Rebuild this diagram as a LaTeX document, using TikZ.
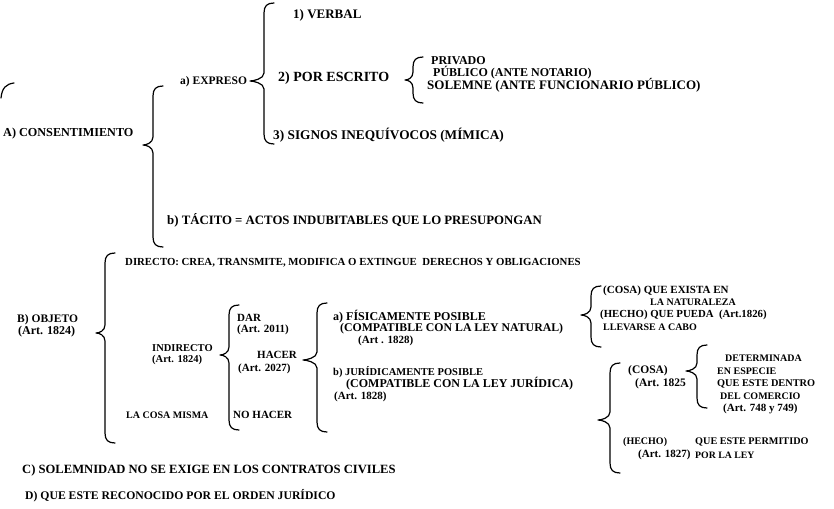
\documentclass[tikz,border=0pt]{standalone}
\usepackage{fontspec}
\setmainfont{Liberation Serif}

% curly brace opening to the right: x of stem, y of top, y of tip, y of bottom, x of tip
\newcommand{\drawbrace}[5]{%
  \draw[brace] (#1+10,#2) .. controls (#1+3,#2) and (#1,#2+3) .. (#1,#2+10)
    -- (#1,#3-8) .. controls (#1,#3-2) and (#5+3,#3) .. (#5,#3)
    .. controls (#5+3,#3) and (#1,#3+2) .. (#1,#3+8)
    -- (#1,#4-10) .. controls (#1,#4-3) and (#1+3,#4) .. (#1+10,#4);}

\begin{document}
\begin{tikzpicture}[x=1pt,y=-1pt,
  lbl/.style={anchor=west,inner sep=0pt,font=\fontsize{#1}{#1}\selectfont\bfseries},
  lbl/.default=12,
  brace/.style={line width=1.2pt,line cap=round,line join=round}]

\fill[white] (0,0) rectangle (834,508);
\useasboundingbox (0,0) rectangle (834,508);

% ---------- A) consentimiento ----------
\draw[brace] (1,98) .. controls (2,88) and (6,84) .. (14,83);

\node[lbl=12.2] (cons) at (3,134) {A) CONSENTIMIENTO};
\drawbrace{153}{86}{145}{247}{143}

\node[lbl=11.5] (expr) at (180,82) {a) EXPRESO};
\drawbrace{264}{3}{81}{144}{250}
\node[lbl=13]   (verb) at (293,15) {1) VERBAL};
\node[lbl=14]   (escr) at (278,78) {2) POR ESCRITO};
\node[lbl=13.3] (sign) at (273,135) {3) SIGNOS INEQUÍVOCOS (MÍMICA)};

\drawbrace{413}{57}{80}{103}{405}
\node[lbl=12]   (priv) at (431,61) {PRIVADO};
\node[lbl=12]   (publ) at (433,73) {PÚBLICO (ANTE NOTARIO)};
\node[lbl=13]   (sole) at (427,85) {SOLEMNE (ANTE FUNCIONARIO PÚBLICO)};

\node[lbl=12.8] (taci) at (167,220) {b) TÁCITO = ACTOS INDUBITABLES QUE LO PRESUPONGAN};

% ---------- B) objeto ----------
\node[lbl=11.5] (obj)  at (17,320) {B) OBJETO};
\node[lbl=12]   (obja) at (18,332) {(Art. 1824)};
\drawbrace{105}{253}{333}{443}{96}

\node[lbl=10.8] (dire) at (125,263) {DIRECTO: CREA, TRANSMITE, MODIFICA O EXTINGUE\ \ DERECHOS Y OBLIGACIONES};
\node[lbl=10.5] (indi)  at (152,348) {INDIRECTO};
\node[lbl=10.5] (india) at (152,360) {(Art. 1824)};
\node[lbl=10]   (cosm) at (126,415) {LA COSA MISMA};

\drawbrace{229}{305}{355}{430}{220}
\node[lbl=11] (dar)   at (237,318) {DAR};
\node[lbl=11] (dara)  at (237,330) {(Art. 2011)};
\node[lbl=11] (hace)  at (257,355) {HACER};
\node[lbl=11] (hacea) at (238,369) {(Art. 2027)};
\node[lbl=11] (noha)  at (233,415) {NO HACER};

\drawbrace{317}{303}{360}{432}{303}
\node[lbl=12]   (fisi)  at (333,317) {a) FÍSICAMENTE POSIBLE};
\node[lbl=11.8] (natu)  at (340,329) {(COMPATIBLE CON LA LEY NATURAL)};
\node[lbl=11]   (fisia) at (358,341) {(Art . 1828)};
\node[lbl=10.5] (juri)  at (333,372) {b) JURÍDICAMENTE POSIBLE};
\node[lbl=12]   (jurc)  at (346,384) {(COMPATIBLE CON LA LEY JURÍDICA)};
\node[lbl=11]   (juria) at (334,397) {(Art. 1828)};

% physical possibility
\drawbrace{591}{286}{315}{347}{581}
\node[lbl=11]   (coex) at (603,291) {(COSA) QUE EXISTA EN};
\node[lbl=10]   (natz) at (650,302) {LA NATURALEZA};
\node[lbl=10.8] (hepu) at (600,315) {(HECHO)\ QUE PUEDA\ \ (Art.1826)};
\node[lbl=10]   (llev) at (603,327) {LLEVARSE A CABO};

% legal possibility
\drawbrace{610}{363}{420}{473}{598}
\node[lbl=11.5] (cosa)  at (628,371) {(COSA)};
\node[lbl=11.5] (cosaa) at (635,384) {(Art. 1825};
\drawbrace{697}{345}{371}{408}{686}
\node[lbl=10]   (dete) at (725,358) {DETERMINADA};
\node[lbl=10]   (espe) at (717,371) {EN ESPECIE};
\node[lbl=10.3] (dent) at (717,384) {QUE ESTE DENTRO};
\node[lbl=10]   (come) at (720,396) {DEL COMERCIO};
\node[lbl=11]   (comea) at (723,409) {(Art. 748 y 749)};

\node[lbl=10]   (hech)  at (623,442) {(HECHO)};
\node[lbl=10.2] (perm)  at (695,442) {QUE ESTE PERMITIDO};
\node[lbl=11]   (hecha) at (638,455) {(Art. 1827)};
\node[lbl=9.8]  (ley)   at (695,455) {POR LA LEY};

% ---------- C) and D) ----------
\node[lbl=12.6] (sol) at (22,470) {C) SOLEMNIDAD NO SE EXIGE EN LOS CONTRATOS CIVILES};
\node[lbl=11.7] (rec) at (25,496) {D) QUE ESTE RECONOCIDO POR EL ORDEN JURÍDICO};
\end{tikzpicture}
\end{document}
